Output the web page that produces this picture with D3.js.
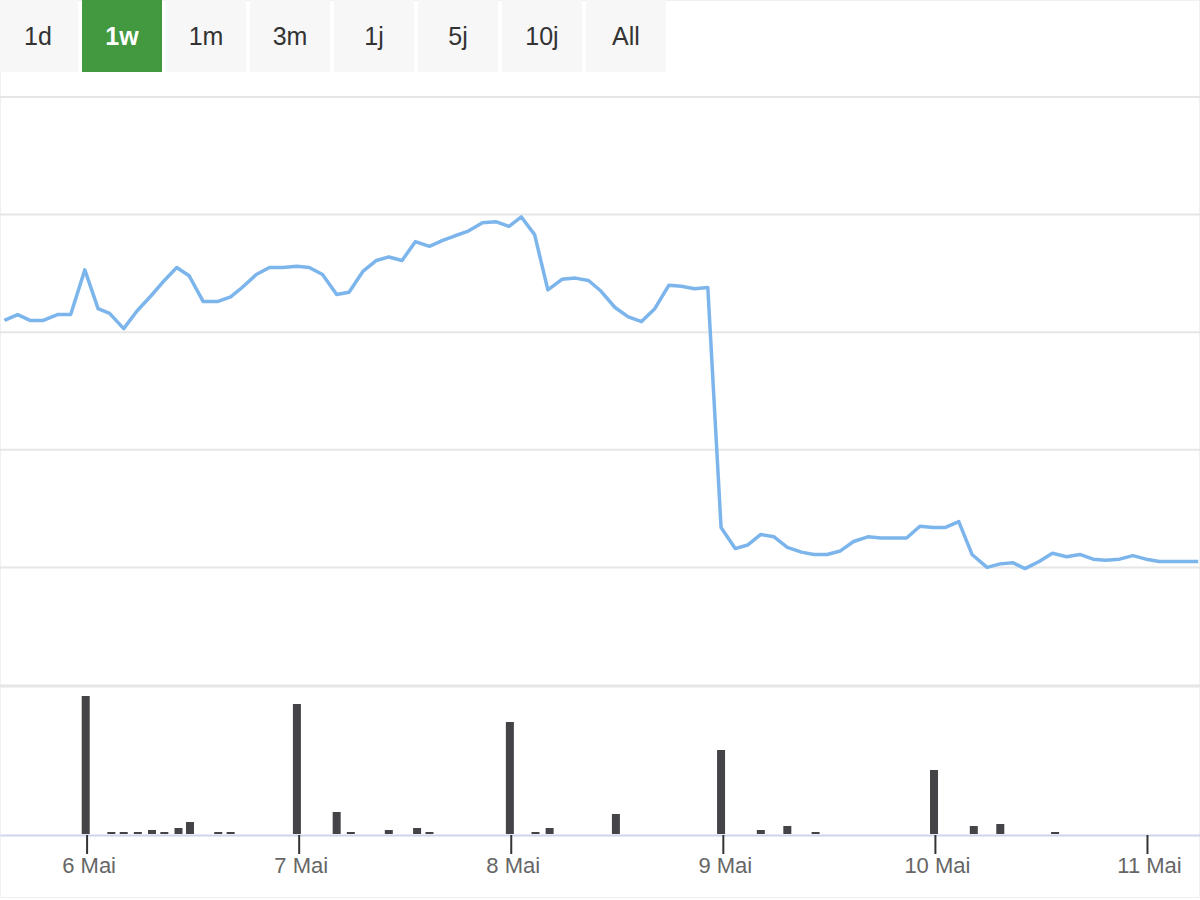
<!DOCTYPE html>
<html><head><meta charset="utf-8">
<script src="https://cdn.jsdelivr.net/npm/d3@7"></script>
<style>body{margin:0;background:#fff;font-family:"Liberation Sans",Arial,sans-serif}</style>
</head><body><div id="chart"></div>
<script>
// Range buttons
const buttons = ["1d", "1w", "1m", "3m", "1j", "5j", "10j", "All"];
const activeButton = "1w";

// Price line: hours after 6 Mai 00:00, and value
const priceHours = [-9.3,-7.8,-6.4,-4.9,-3.3,-1.8,-0.2,1.3,2.6,4.2,5.7,7.3,8.8,10.2,11.6,13.2,14.8,16.3,17.6,19.2,20.7,22.2,23.8,25.2,26.7,28.3,29.7,31.3,32.8,34.2,35.7,37.2,38.8,40.3,41.7,43.2,44.8,46.3,47.8,49.2,50.7,52.2,53.8,55.3,56.8,58.2,59.8,61.3,62.8,64.3,65.9,67.3,68.8,70.3,71.8,73.4,74.8,76.3,77.8,79.3,80.9,82.3,83.8,85.3,86.8,88.4,89.9,91.3,92.8,94.3,95.8,97.2,98.7,100.2,101.9,103.4,104.8,106.2,107.8,109.3,110.9,112.4,113.9,115.3,116.9,118.4,119.9,121.4,122.8,124.3,125.8];
const priceValues = [3.10,3.15,3.10,3.10,3.15,3.15,3.53,3.20,3.16,3.03,3.18,3.31,3.44,3.55,3.48,3.26,3.26,3.30,3.38,3.49,3.55,3.55,3.56,3.55,3.49,3.32,3.34,3.52,3.61,3.64,3.61,3.77,3.73,3.78,3.82,3.86,3.93,3.94,3.90,3.98,3.83,3.36,3.45,3.46,3.44,3.35,3.21,3.13,3.09,3.20,3.40,3.39,3.37,3.38,1.34,1.16,1.19,1.28,1.26,1.17,1.13,1.11,1.11,1.14,1.22,1.26,1.25,1.25,1.25,1.35,1.34,1.34,1.39,1.11,1.00,1.03,1.04,0.99,1.05,1.12,1.09,1.11,1.07,1.06,1.07,1.10,1.07,1.05,1.05,1.05,1.05];

// Volume bars
const volumeHours = [-0.1,2.8,4.2,5.8,7.4,8.8,10.4,11.7,14.9,16.3,23.8,28.3,29.9,34.2,37.4,38.8,47.9,50.8,52.4,59.9,71.8,76.3,79.3,82.5,95.9,100.4,103.4,109.6];
const volumeValues = [138,2,2,2,4,2,6,12,2,2,130,22,2,4,6,2,112,2,6,20,84,4,8,2,64,8,10,2];

const tickLabels = ["6 Mai", "7 Mai", "8 Mai", "9 Mai", "10 Mai", "11 Mai"];

const W = 1200, H = 900;
const svg = d3.select("#chart").append("svg").attr("width", W).attr("height", H);

svg.append("rect").attr("x", 0.5).attr("y", 0.5).attr("width", W - 1).attr("height", H - 3)
  .attr("fill", "#fff").attr("stroke", "#f0f0f0");

// buttons
const bx = d3.scalePoint().domain(buttons).range([0, 84 * (buttons.length - 1)]);
const bg = svg.selectAll("g.btn").data(buttons).enter().append("g")
  .attr("transform", d => `translate(${bx(d) - 2},0)`);
bg.append("rect").attr("width", 80).attr("height", 72)
  .attr("fill", d => d === activeButton ? "#43993f" : "#f7f7f8");
bg.append("text").attr("x", 40).attr("y", 45).attr("text-anchor", "middle")
  .attr("font-size", 25).attr("font-weight", d => d === activeButton ? "bold" : "normal")
  .attr("fill", d => d === activeButton ? "#fff" : "#333").text(d => d);

const t0 = new Date(2024, 4, 6);
const toDate = h => new Date(t0.getTime() + h * 3600e3);
const x = d3.scaleTime().domain([toDate(-9.8), toDate(126.0)]).range([0, 1200]);
const y = d3.scaleLinear().domain([0, 5]).range([685, 97]);

// grid
svg.append("g").selectAll("line").data([1, 2, 3, 4, 5]).enter().append("line")
  .attr("x1", 0).attr("x2", W).attr("y1", d => y(d)).attr("y2", d => y(d))
  .attr("stroke", "#e6e6e6").attr("stroke-width", 2);
svg.append("line").attr("x1", 0).attr("x2", W).attr("y1", 686).attr("y2", 686)
  .attr("stroke", "#e6e6e6").attr("stroke-width", 3);

const pts = priceHours.map((h, i) => [toDate(h), priceValues[i]]);
svg.append("path").datum(pts).attr("fill", "none").attr("stroke", "#7cb5ec")
  .attr("stroke-width", 3.5).attr("stroke-linejoin", "round")
  .attr("d", d3.line().x(d => x(d[0])).y(d => y(d[1])));

// volume
const yv = d3.scaleLinear().domain([0, 138]).range([834, 696]);
svg.append("g").selectAll("rect").data(volumeHours).enter().append("rect")
  .attr("x", (d, i) => x(toDate(d)) - 4).attr("width", 8)
  .attr("y", (d, i) => yv(volumeValues[i])).attr("height", (d, i) => 834 - yv(volumeValues[i]))
  .attr("fill", "#434348");

// x axis
const ax = svg.append("g").attr("transform", "translate(0,835)")
  .call(d3.axisBottom(x).tickValues(tickLabels.map((d, i) => toDate(24 * i)))
    .tickFormat((d, i) => tickLabels[i]).tickSize(19).tickSizeOuter(0));
ax.select(".domain").attr("stroke", "#ccd6eb").attr("stroke-width", 2);
ax.selectAll(".tick line").attr("stroke", "#333").attr("stroke-width", 2);
ax.selectAll(".tick text").attr("font-size", 22).attr("fill", "#666")
  .attr("font-family", "Liberation Sans, Arial, sans-serif").attr("dy", "0.35em").attr("y", 30)
  .attr("dx", 2);
</script></body></html>
